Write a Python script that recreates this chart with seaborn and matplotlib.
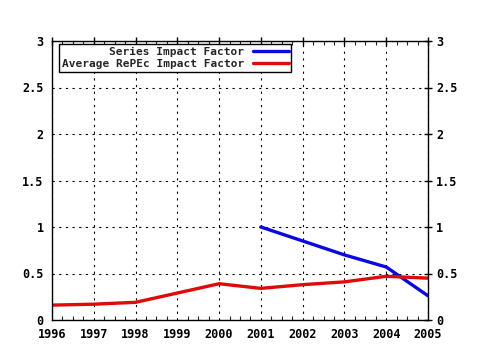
import matplotlib
matplotlib.use("Agg")
import matplotlib.pyplot as plt
from matplotlib.ticker import MultipleLocator
import seaborn as sns
import pandas as pd

years = [1996, 1997, 1998, 1999, 2000, 2001, 2002, 2003, 2004, 2005]
repec_if = [0.16, 0.17, 0.19, 0.29, 0.39, 0.34, 0.38, 0.41, 0.47, 0.45]
series_years = [2001, 2002, 2003, 2004, 2005]
series_if = [1.0, 0.85, 0.70, 0.57, 0.26]

sns.set_style("white")
plt.rcParams['font.family'] = ['DejaVu Sans Mono']
plt.rcParams['font.weight'] = 'bold'
plt.rcParams['font.size'] = 8.5

df_s = pd.DataFrame({"year": series_years, "val": series_if})
df_r = pd.DataFrame({"year": years, "val": repec_if})

fig = plt.figure(figsize=(4.8, 3.5), dpi=100)
ax = fig.add_axes([52 / 480, 1 - 320 / 350, 376 / 480, 279 / 350])

sns.lineplot(data=df_s, x="year", y="val", ax=ax, color="#0a0ae0", lw=2.4,
             label="Series Impact Factor")
sns.lineplot(data=df_r, x="year", y="val", ax=ax, color="#e00a0a", lw=2.4,
             label="Average RePEc Impact Factor")

ax.set_xlim(1996, 2005)
ax.set_ylim(0, 3)
ax.set_xticks(years)
ax.set_xticklabels([str(y) for y in years])
ax.xaxis.set_minor_locator(MultipleLocator(0.25))
ax.set_yticks([0, 0.5, 1, 1.5, 2, 2.5, 3])
ax.set_yticklabels(["0", "0.5", "1", "1.5", "2", "2.5", "3"])
ax.set_xlabel("")
ax.set_ylabel("")
ax.grid(True, which="major", color="black", linestyle=(0, (2, 4)), lw=0.8)
for s in ax.spines.values():
    s.set_color("black")
    s.set_linewidth(1)
ax.tick_params(which="major", direction="inout", length=6, width=1,
               top=True, right=True, labelright=True, colors="black", pad=3)
ax.tick_params(which="minor", direction="in", length=3, width=0.8,
               top=True, bottom=True)

leg = ax.legend(loc="upper left", bbox_to_anchor=(0.019, 0.989),
                borderaxespad=0, markerfirst=False, fancybox=False,
                framealpha=1, edgecolor="black", handlelength=3.2,
                labelspacing=0.2, borderpad=0.25, handletextpad=0.8,
                prop={"size": 8, "weight": "bold"})
leg.get_frame().set_linewidth(1)

fig.savefig("out.png", dpi=100)
